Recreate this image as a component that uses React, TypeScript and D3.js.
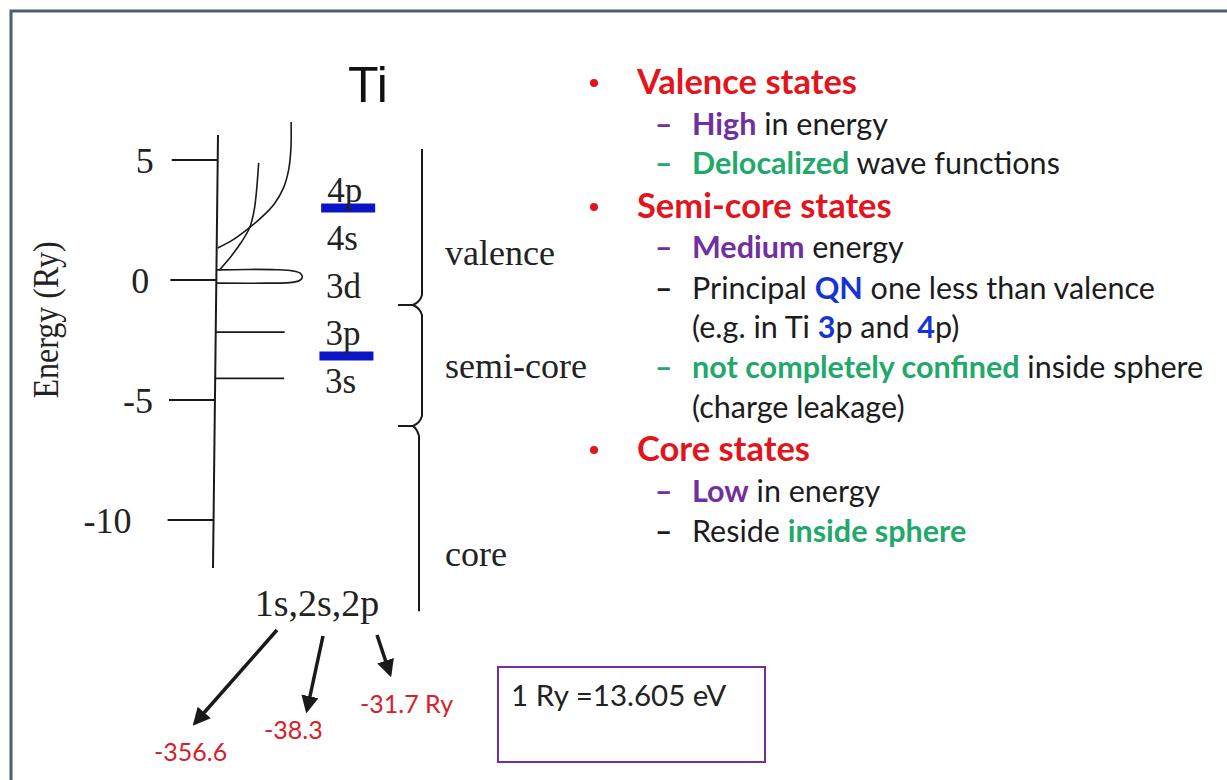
import * as d3 from "d3";

// energy axis (Ry)
const energyTicks = [5, 0, -5, -10];
const axisTop = 6.04;
const axisBottom = -12.0;

// black level marks on the axis (3p, 3s)
const levelMarks = [-2.17, -4.1];
// blue highlight bars (4p, 3p)
const highlightBars = [3.0, -3.17];

const orbitalNames = ["4p", "4s", "3d", "3p", "3s"];
const orbitalLabelE = [3.25, 1.25, -0.75, -2.72, -4.72];

// sketched radial curves: amplitude (0..1) vs energy
const outerAmp = [0.01, 0.16, 0.31, 0.46, 0.57, 0.66, 0.71, 0.73, 0.73];
const outerE = [1.33, 1.67, 2.13, 2.67, 3.17, 3.83, 4.58, 5.42, 6.58];
const innerAmp = [0.03, 0.14, 0.24, 0.33, 0.37, 0.39, 0.41];
const innerE = [0.42, 0.96, 1.54, 2.21, 2.9, 3.63, 4.88];
// 3d lobe (closed)
const lobeAmp = [0, 0.3, 0.6, 0.76, 0.84, 0.86, 0.84, 0.76, 0.5, 0];
const lobeE = [0.42, 0.44, 0.43, 0.38, 0.28, 0.13, 0.0, -0.1, -0.13, -0.13];

const regionNames = ["valence", "semi-core", "core"];
const regionBounds = [5.46, -1.04, -6.08, -13.8];
const regionLabelE = [0.62, -4.08, -11.9];

const coreOrbitals = "1s,2s,2p";
const coreEnergies = ["-356.6", "-38.3", "-31.7 Ry"];

const conversion = "1 Ry =13.605 eV";

type Seg = [string, string, boolean?];
const bulletRows: { level: number; dash?: string; segs: Seg[] }[] = [
  { level: 0, segs: [["Valence states", "red", true]] },
  { level: 1, dash: "purple", segs: [["High", "purple", true], [" in energy", "black"]] },
  { level: 1, dash: "green", segs: [["Delocalized", "green", true], [" wave functions", "black"]] },
  { level: 0, segs: [["Semi-core states", "red", true]] },
  { level: 1, dash: "purple", segs: [["Medium", "purple", true], [" energy", "black"]] },
  {
    level: 1,
    dash: "black",
    segs: [["Principal ", "black"], ["QN", "blue", true], [" one less than valence", "black"]],
  },
  {
    level: 2,
    segs: [["(e.g. in Ti ", "black"], ["3", "blue", true], ["p and ", "black"], ["4", "blue", true], ["p)", "black"]],
  },
  {
    level: 1,
    dash: "green",
    segs: [["not completely confined", "green", true], [" inside sphere", "black"]],
  },
  { level: 2, segs: [["(charge leakage)", "black"]] },
  { level: 0, segs: [["Core states", "red", true]] },
  { level: 1, dash: "purple", segs: [["Low", "purple", true], [" in energy", "black"]] },
  { level: 1, dash: "black", segs: [["Reside ", "black"], ["inside sphere", "green", true]] },
];
const rowBaselines = [94, 135, 174, 218, 258, 299, 338, 378, 418, 461, 502, 542];

const palette: Record<string, string> = {
  red: "#e3141c",
  purple: "#7030a0",
  green: "#22a86a",
  blue: "#1434d6",
  black: "#1c1c1c",
};

const serif = "'Liberation Serif', 'DejaVu Serif', serif";
const sans = "Lato, 'Open Sans', sans-serif";
const ink = "#1a1a1a";

export default function App() {
  const y = d3.scaleLinear().domain([5, -10]).range([160, 520]);
  const axisX = d3.scaleLinear().domain([axisTop, axisBottom]).range([218, 213]);
  const amp = d3.scaleLinear().domain([0, 1]).range([0, 100]);

  const curve = (a: number[], e: number[]) =>
    d3
      .line<number>()
      .x((i) => axisX(e[i]) + amp(a[i]))
      .y((i) => y(e[i]))
      .curve(d3.curveCatmullRom.alpha(0.5))(d3.range(a.length)) ?? "";

  // curly brace built from region bounds
  const brace = d3.path();
  const bx = [422, 422, 419];
  const tipX = 398;
  const ys = regionBounds.map(y);
  brace.moveTo(bx[0], ys[0]);
  for (let k = 1; k < ys.length - 1; k++) {
    const c = ys[k];
    brace.lineTo(bx[k - 1], c - 10);
    brace.quadraticCurveTo(bx[k - 1] - 2, c - 3, bx[k - 1] - 9, c);
    brace.lineTo(tipX, c);
    brace.moveTo(bx[k - 1] - 9, c);
    brace.quadraticCurveTo(bx[k] - 2, c + 3, bx[k], c + 10);
  }
  brace.lineTo(bx[2], ys[3]);

  // arrows from core label to core energies
  const arrows = [
    [277, 630, 195, 723],
    [323, 636, 307, 710],
    [377, 635, 390, 674],
  ];
  const valueLabelPos = [
    [154, 761],
    [264, 739],
    [360, 713],
  ];
  const tickNudge: Record<number, number> = { 5: -4, 0: -7, "-5": -2, "-10": -22 };

  return (
    <svg
      width={1227}
      height={780}
      style={{ position: "fixed", left: 0, top: 0, background: "#ffffff" }}
    >
      <defs>
        <marker
          id="head"
          viewBox="0 0 10 10"
          refX="8"
          refY="5"
          markerWidth="5"
          markerHeight="5"
          orient="auto"
          markerUnits="strokeWidth"
        >
          <path d="M0,0 L10,5 L0,10 z" fill={ink} />
        </marker>
      </defs>

      {/* slide frame */}
      <rect x={11} y={11} width={1260} height={820} fill="none" stroke="#4d5b72" strokeWidth={3} />

      {/* title */}
      <text x={368} y={102} textAnchor="middle" fontFamily="'Liberation Sans', Arial, sans-serif" fontSize={50} fill="#111">
        Ti
      </text>

      {/* energy axis */}
      <line x1={axisX(axisTop)} y1={y(axisTop)} x2={axisX(axisBottom)} y2={y(axisBottom)} stroke={ink} strokeWidth={2} />
      {energyTicks.map((t) => (
        <g key={t}>
          <line x1={axisX(t) - 46} x2={axisX(t)} y1={y(t)} y2={y(t)} stroke={ink} strokeWidth={2} />
          <text
            x={axisX(t) - 60 + (tickNudge[t] ?? 0)}
            y={y(t)}
            dy="0.35em"
            textAnchor="end"
            fontFamily={serif}
            fontSize={36}
            fill="#222"
          >
            {t}
          </text>
        </g>
      ))}
      <text
        transform={`translate(58,320) rotate(-90) scale(1,1.15)`}
        textAnchor="middle"
        fontFamily={serif}
        fontSize={32}
        fill="#222"
      >
        Energy (Ry)
      </text>

      {/* level marks */}
      {levelMarks.map((e) => (
        <line key={e} x1={axisX(e)} x2={axisX(e) + amp(0.69)} y1={y(e)} y2={y(e)} stroke={ink} strokeWidth={1.8} />
      ))}
      {highlightBars.map((e) => (
        <line key={e} x1={axisX(e) + amp(1.04)} x2={axisX(e) + amp(1.58)} y1={y(e)} y2={y(e)} stroke="#0a14c8" strokeWidth={9} />
      ))}

      {/* sketched curves */}
      <path d={curve(outerAmp, outerE)} fill="none" stroke={ink} strokeWidth={1.6} />
      <path d={curve(innerAmp, innerE)} fill="none" stroke={ink} strokeWidth={1.6} />
      <path d={curve(lobeAmp, lobeE)} fill="none" stroke={ink} strokeWidth={1.6} />

      {/* orbital labels */}
      {orbitalNames.map((n, i) => (
        <text key={n + i} x={axisX(orbitalLabelE[i]) + amp(1.1)} y={y(orbitalLabelE[i])} fontFamily={serif} fontSize={35} fill="#222">
          {n}
        </text>
      ))}

      {/* brace and region labels */}
      <path d={brace.toString()} fill="none" stroke={ink} strokeWidth={2} />
      {regionNames.map((n, i) => (
        <text key={n} x={445} y={y(regionLabelE[i])} fontFamily={serif} fontSize={36} fill="#222">
          {n}
        </text>
      ))}

      {/* core orbitals */}
      <text x={317} y={616} textAnchor="middle" fontFamily={serif} fontSize={38} fill="#222">
        {coreOrbitals}
      </text>
      {arrows.map(([x1, y1, x2, y2], i) => (
        <line key={i} x1={x1} y1={y1} x2={x2} y2={y2} stroke={ink} strokeWidth={3.5} markerEnd="url(#head)" />
      ))}
      {coreEnergies.map((v, i) => (
        <text key={v} x={valueLabelPos[i][0]} y={valueLabelPos[i][1]} fontFamily={sans} fontSize={25} fill="#d8202a">
          {v}
        </text>
      ))}

      {/* bullet list */}
      {bulletRows.map((row, i) => {
        const base = rowBaselines[i];
        const x = row.level === 0 ? 637 : 692;
        return (
          <g key={i}>
            {row.level === 0 && <circle cx={594} cy={base - 11} r={4} fill={palette.red} />}
            {row.dash && (
              <text x={655} y={base} fontFamily={sans} fontSize={30} fontWeight={700} fill={palette[row.dash]}>
                –
              </text>
            )}
            <text x={x} y={base} fontFamily={sans} fontSize={row.level === 0 ? 34.5 : 30.5} xmlSpace="preserve">
              {row.segs.map(([t, c, b], k) => (
                <tspan key={k} fill={palette[c]} fontWeight={b ? 700 : 400}>
                  {t}
                </tspan>
              ))}
            </text>
          </g>
        );
      })}

      {/* conversion box */}
      <rect x={498} y={667} width={267} height={95} fill="none" stroke="#7030a0" strokeWidth={2} />
      <text x={511} y={706} fontFamily={sans} fontSize={29.5} fill="#222">
        {conversion}
      </text>
    </svg>
  );
}
